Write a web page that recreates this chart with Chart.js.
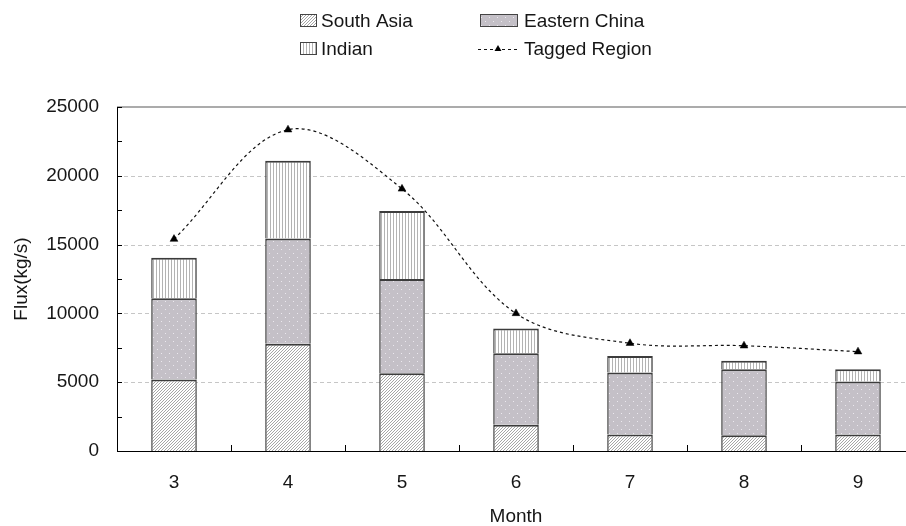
<!DOCTYPE html>
<html>
<head>
<meta charset="utf-8">
<script src="https://cdn.jsdelivr.net/npm/chart.js@4.4.1/dist/chart.umd.min.js"></script>
<style>
  html, body { margin: 0; padding: 0; background: #fff; overflow: hidden; }
  #wrap { width: 906px; height: 526px; overflow: hidden; }
  canvas { display: block; }
</style>
</head>
<body>
<div id="wrap"><canvas id="chart" width="920" height="526"></canvas></div>
<script>
// Monthly flux contributions (kg/s)
const months = ['3', '4', '5', '6', '7', '8', '9'];
const southAsia = [5200, 7800, 5650, 1900, 1200, 1150, 1200];
const easternChina = [5900, 7650, 6850, 5200, 4500, 4800, 3850];
const indian = [2950, 5650, 4950, 1800, 1200, 600, 900];
const taggedRegion = [15400, 23350, 19050, 10000, 7830, 7650, 7220];

// Value axis ticks
const yMajorTicks = [0, 5000, 10000, 15000, 20000, 25000];
const yMinorTicks = [2500, 7500, 12500, 17500, 22500];
const yMax = 25000;

const FONT = '"Liberation Sans", Arial, sans-serif';
const FONT_SIZE = 19;
const TEXT = '#161616';

const ctx = document.getElementById('chart').getContext('2d');

function makeTile(w, h, paint) {
  const c = document.createElement('canvas');
  c.width = w; c.height = h;
  const g = c.getContext('2d');
  paint(g);
  return ctx.createPattern(c, 'repeat');
}

// fine diagonal "/" hatch
const hatchFill = makeTile(3, 3, g => {
  g.fillStyle = '#fff'; g.fillRect(0, 0, 3, 3);
  g.fillStyle = '#a6a6a6';
  for (let i = 0; i < 3; i++) g.fillRect(i, 2 - i, 1, 1);
});

// grey fill with small light dots
const dotFill = makeTile(8, 8, g => {
  g.fillStyle = '#c4c0c7'; g.fillRect(0, 0, 8, 8);
  g.fillStyle = '#ebe8ee';
  g.fillRect(1, 1, 1, 1);
  g.fillRect(5, 5, 1, 1);
});

// vertical stripes
const stripeFill = makeTile(3, 3, g => {
  g.fillStyle = '#fff'; g.fillRect(0, 0, 3, 3);
  g.fillStyle = '#b3b3b3'; g.fillRect(0, 0, 1, 3);
});

const barBorder = { top: 2, left: 1.5, right: 1.5, bottom: 0 };

// dashed gridlines behind the bars, inward tick marks on top
const framePlugin = {
  id: 'frame',
  beforeDatasetsDraw(chart) {
    const { ctx: c, chartArea: a, scales: { y } } = chart;
    c.save();
    yMajorTicks.forEach(v => {
      if (v === 0) return;
      const py = Math.round(y.getPixelForValue(v));
      if (v === yMax) {
        c.setLineDash([]); c.strokeStyle = '#ababab'; c.lineWidth = 2;
        c.beginPath(); c.moveTo(a.left, py); c.lineTo(a.right, py); c.stroke();
      } else {
        c.setLineDash([4, 3]); c.strokeStyle = '#c6c6c6'; c.lineWidth = 1;
        c.beginPath(); c.moveTo(a.left, py + 0.5); c.lineTo(a.right, py + 0.5); c.stroke();
      }
    });
    c.restore();
  },
  afterDraw(chart) {
    const { ctx: c, chartArea: a, scales: { x, y } } = chart;
    c.save();
    c.strokeStyle = '#000'; c.lineWidth = 1; c.setLineDash([]);
    c.beginPath();
    yMajorTicks.concat(yMinorTicks).forEach(v => {
      const py = Math.round(y.getPixelForValue(v)) + 0.5;
      c.moveTo(a.left, py); c.lineTo(a.left + 5, py);
    });
    for (let i = 1; i < months.length; i++) {
      const px = Math.round((x.getPixelForValue(i - 1) + x.getPixelForValue(i)) / 2) + 0.5;
      c.moveTo(px, a.bottom); c.lineTo(px, a.bottom - 6);
    }
    c.stroke();
    c.restore();
  }
};

// two-column legend above the plot
const legendPlugin = {
  id: 'twoColLegend',
  afterDraw(chart) {
    const c = chart.ctx;
    const ds = chart.data.datasets;
    const items = [
      { i: 0, kind: 'box', bx: 300, by: 14, bw: 17, bh: 13, tx: 321, ty: 27 },
      { i: 1, kind: 'box', bx: 480, by: 14, bw: 38, bh: 13, tx: 524, ty: 27 },
      { i: 2, kind: 'box', bx: 300, by: 42, bw: 17, bh: 13, tx: 321, ty: 55 },
      { i: 3, kind: 'line', bx: 478, by: 49, bw: 40, tx: 524, ty: 55 }
    ];
    c.save();
    items.forEach(it => {
      const d = ds[it.i];
      if (it.kind === 'box') {
        c.fillStyle = d.backgroundColor;
        c.fillRect(it.bx, it.by, it.bw, it.bh);
        c.strokeStyle = '#444'; c.lineWidth = 1;
        c.strokeRect(it.bx + 0.5, it.by + 0.5, it.bw - 1, it.bh - 1);
      } else {
        c.strokeStyle = d.borderColor; c.lineWidth = 1.2;
        c.setLineDash([3, 3]);
        c.beginPath(); c.moveTo(it.bx, it.by + 0.5); c.lineTo(it.bx + it.bw, it.by + 0.5); c.stroke();
        c.setLineDash([]);
        const cx = it.bx + it.bw / 2, r = 4;
        c.fillStyle = '#000';
        c.beginPath();
        c.moveTo(cx, it.by - r);
        c.lineTo(cx + r * 0.87, it.by + r * 0.5);
        c.lineTo(cx - r * 0.87, it.by + r * 0.5);
        c.closePath(); c.fill();
      }
      c.fillStyle = TEXT;
      c.font = FONT_SIZE + 'px ' + FONT;
      c.textBaseline = 'alphabetic';
      c.textAlign = 'left';
      c.fillText(d.label, it.tx, it.ty);
    });
    c.restore();
  }
};

new Chart(ctx, {
  data: {
    labels: months,
    datasets: [
      { type: 'bar', label: 'South Asia', data: southAsia, backgroundColor: hatchFill,
        borderColor: '#3c3c3c', borderWidth: barBorder, order: 1, stack: 'flux' },
      { type: 'bar', label: 'Eastern China', data: easternChina, backgroundColor: dotFill,
        borderColor: '#3c3c3c', borderWidth: barBorder, order: 1, stack: 'flux' },
      { type: 'bar', label: 'Indian', data: indian, backgroundColor: stripeFill,
        borderColor: '#3c3c3c', borderWidth: barBorder, order: 1, stack: 'flux' },
      { type: 'line', label: 'Tagged Region', data: taggedRegion, stack: 'tagged', order: 0,
        borderColor: '#111', borderWidth: 1.2, borderDash: [3, 3], tension: 0.35, fill: false,
        pointStyle: 'triangle', pointRadius: 4.5, pointBackgroundColor: '#000',
        pointBorderColor: '#000', pointBorderWidth: 0.5 }
    ]
  },
  options: {
    responsive: false,
    animation: false,
    devicePixelRatio: 1,
    layout: { padding: { top: 107, right: 2, left: 0, bottom: 0 } },
    datasets: { bar: { barPercentage: 0.4, categoryPercentage: 1.0 } },
    plugins: { legend: { display: false }, tooltip: { enabled: false } },
    scales: {
      x: {
        stacked: true,
        offset: true,
        grid: { display: false, drawTicks: false, offset: true },
        border: { display: true, color: '#000', width: 1 },
        ticks: { color: TEXT, font: { family: FONT, size: FONT_SIZE }, padding: 20 },
        title: { display: true, text: 'Month', color: TEXT,
                 font: { family: FONT, size: FONT_SIZE, lineHeight: 1 }, padding: { top: 0, bottom: 0 } },
        afterFit(s) { s.height = 75; }
      },
      y: {
        stacked: true,
        min: 0,
        max: yMax,
        grid: { display: false, drawTicks: false },
        border: { display: true, color: '#000', width: 1 },
        ticks: { stepSize: 5000, color: TEXT, font: { family: FONT, size: FONT_SIZE }, padding: 18,
                 callback: v => String(v) },
        title: { display: true, text: 'Flux(kg/s)', color: TEXT,
                 font: { family: FONT, size: FONT_SIZE, lineHeight: 1.2 }, padding: { top: 10, bottom: 0 } },
        afterFit(s) { s.width = 117; }
      }
    }
  },
  plugins: [framePlugin, legendPlugin]
});
</script>
</body>
</html>
